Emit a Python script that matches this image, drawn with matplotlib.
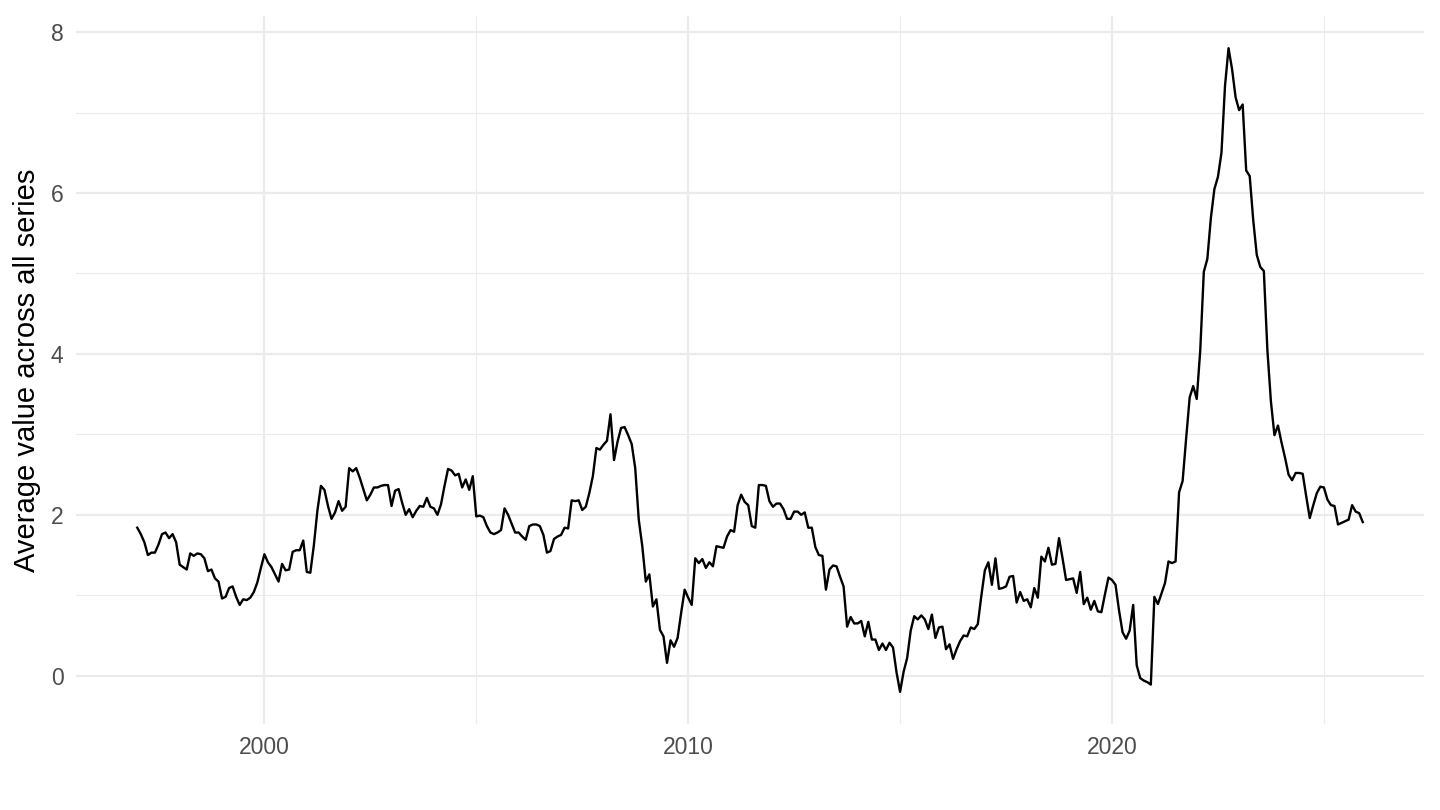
import numpy as np
import matplotlib
matplotlib.use("Agg")
import matplotlib.pyplot as plt
from matplotlib.ticker import MultipleLocator

# monthly averages, Jan 1997 .. Dec 2025
vals_1997_2000 = [
    1.84, 1.76, 1.66, 1.50, 1.53, 1.53, 1.63, 1.76, 1.78, 1.71, 1.76, 1.66,
    1.38, 1.35, 1.32, 1.52, 1.49, 1.52, 1.51, 1.46, 1.30, 1.32, 1.21, 1.17,
    0.96, 0.98, 1.09, 1.11, 0.98, 0.88, 0.95, 0.94, 0.97, 1.04, 1.16, 1.34,
    1.51, 1.41, 1.35, 1.26, 1.17, 1.39, 1.31, 1.32, 1.54, 1.56, 1.56, 1.68,
    1.29, 1.28,
]
vals_2001_2005 = [
    1.62, 2.05, 2.36, 2.31, 2.11, 1.95, 2.03, 2.17, 2.05, 2.10,
    2.58, 2.54, 2.58, 2.46, 2.32, 2.18, 2.25, 2.34, 2.34, 2.36, 2.37, 2.37,
    2.11, 2.30, 2.32, 2.15, 2.00, 2.07, 1.97, 2.05, 2.11, 2.10, 2.21, 2.10,
    2.08, 2.00, 2.13, 2.36, 2.57, 2.55, 2.49, 2.51, 2.34, 2.44, 2.31, 2.48,
    1.98, 1.99, 1.97, 1.86,
]
vals_2005_2009 = [
    1.78, 1.76, 1.78, 1.81, 2.08, 2.00, 1.89, 1.78, 1.78, 1.73, 1.69, 1.86,
    1.88, 1.88, 1.86, 1.75, 1.53, 1.55, 1.70, 1.73, 1.75, 1.84, 1.83, 2.18,
    2.17, 2.18, 2.06, 2.10, 2.27, 2.48, 2.83, 2.81, 2.87, 2.92, 3.25, 2.68,
    2.91, 3.08, 3.09, 2.99, 2.88, 2.58, 1.94, 1.61, 1.17, 1.26, 0.86, 0.95,
    0.57, 0.49, 0.16, 0.44, 0.36, 0.47, 0.78, 1.07, 0.97, 0.88,
]
vals_2010_2014 = [
    1.46, 1.40, 1.45, 1.34, 1.41, 1.36, 1.61, 1.60, 1.59, 1.73, 1.81, 1.79,
    2.12, 2.25, 2.16, 2.12, 1.86, 1.84, 2.37, 2.37, 2.36, 2.17, 2.10, 2.14,
    2.14, 2.07, 1.95, 1.95, 2.04, 2.04, 2.00, 2.03, 1.84, 1.84, 1.60, 1.50,
    1.49, 1.07, 1.32, 1.37, 1.36, 1.23, 1.11, 0.61, 0.73, 0.65, 0.65, 0.68,
    0.49, 0.67, 0.45, 0.45, 0.32, 0.40, 0.32,
]
vals_2014_2020 = [
    0.41, 0.35, 0.04, -0.20, 0.05, 0.22, 0.56, 0.74, 0.70, 0.75, 0.70, 0.58,
    0.76, 0.47, 0.60, 0.61, 0.33, 0.39, 0.21, 0.33, 0.43, 0.50, 0.49, 0.60,
    0.58, 0.64, 0.99, 1.31, 1.41, 1.13, 1.46, 1.08, 1.09, 1.11, 1.23, 1.24,
    0.91, 1.04, 0.93, 0.95, 0.85, 1.09, 0.97, 1.48, 1.42, 1.59, 1.38, 1.39,
    1.71, 1.46, 1.19, 1.20, 1.21, 1.03, 1.29, 0.89, 0.97, 0.82, 0.93, 0.80,
    0.79, 1.01, 1.22,
]
vals_2020_2025 = [
    1.19, 1.13, 0.81, 0.54, 0.46, 0.56, 0.88, 0.13, -0.03, -0.06, -0.08, -0.11,
    0.98, 0.89, 1.02, 1.15, 1.42, 1.40, 1.42, 2.28, 2.42, 2.95, 3.46, 3.60,
    3.44, 4.05, 5.02, 5.18, 5.69, 6.05, 6.20, 6.50, 7.33, 7.80, 7.54, 7.19,
    7.03, 7.10, 6.28, 6.21, 5.66, 5.23, 5.08, 5.03, 4.05, 3.41, 2.99, 3.11,
    2.90, 2.71, 2.50, 2.43, 2.52, 2.52, 2.51, 2.23, 1.96, 2.12, 2.27, 2.35,
    2.34, 2.19, 2.12, 2.11, 1.88, 1.90, 1.92, 1.94, 2.12, 2.04, 2.02, 1.91,
]

avg = np.array(vals_1997_2000 + vals_2001_2005 + vals_2005_2009
               + vals_2010_2014 + vals_2014_2020 + vals_2020_2025)
years = 1997 + np.arange(len(avg)) / 12

plt.rcParams['font.family'] = ['Liberation Sans', 'DejaVu Sans']

fig = plt.figure(figsize=(14.4, 8.1), dpi=100)
ax = fig.add_axes([76/1440, 1 - 724/810, (1424 - 76)/1440, (724 - 16)/810])

ax.plot(years, avg, color='black', lw=1.7, zorder=3)

# ggplot-ish 5% expansion
span = years[-1] - years[0]
ax.set_xlim(years[0] - 0.05*span, years[-1] + 0.05*span)
yr = avg.max() - avg.min()
ax.set_ylim(avg.min() - 0.05*yr, avg.max() + 0.05*yr)

ax.xaxis.set_major_locator(MultipleLocator(10))
ax.xaxis.set_minor_locator(MultipleLocator(5))
ax.yaxis.set_major_locator(MultipleLocator(2))
ax.yaxis.set_minor_locator(MultipleLocator(1))
ax.xaxis.set_major_formatter(plt.FuncFormatter(lambda v, p: f"{int(v)}"))

ax.grid(which='major', color='#EBEBEB', lw=1.6)
ax.grid(which='minor', color='#EBEBEB', lw=0.8)
ax.set_axisbelow(True)
for s in ax.spines.values():
    s.set_visible(False)
ax.tick_params(which='both', length=0, labelsize=16.5, labelcolor='#4D4D4D', pad=9)

ax.set_ylabel('Average value across all series', fontsize=21, labelpad=7)

fig.savefig('out.png', dpi=100)
